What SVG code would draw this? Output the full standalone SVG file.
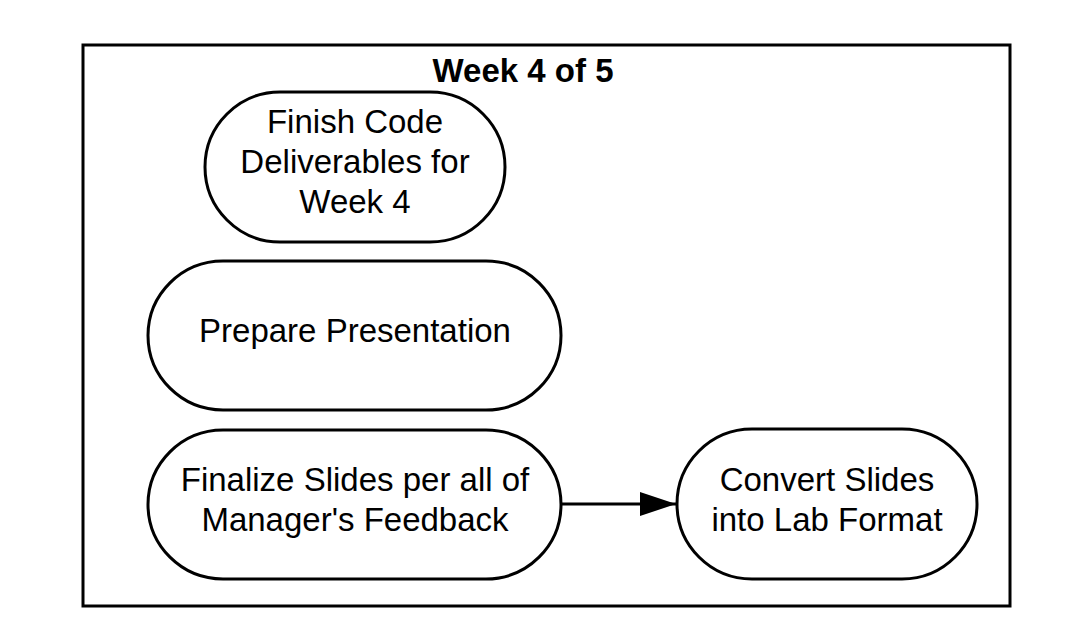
<svg xmlns="http://www.w3.org/2000/svg" width="1081" height="625" viewBox="0 0 1081 625">
<style>
.frame{fill:#fff;stroke:#000;stroke-width:3}
.node{fill:#fff;stroke:#000;stroke-width:3}
.t{font-family:"Liberation Sans",Arial,sans-serif;font-size:33px;fill:#000;text-anchor:middle}
.title{font-family:"Liberation Sans",Arial,sans-serif;font-size:33px;font-weight:bold;fill:#000;text-anchor:middle}
.edge{stroke:#000;stroke-width:3;fill:none}
</style>
<defs>
<marker id="arr" markerWidth="12" markerHeight="8" refX="12" refY="4" orient="auto" markerUnits="strokeWidth">
<path d="M0,0 L12,4 L0,8 Z" fill="#000"/>
</marker>
</defs>
<rect width="1081" height="625" fill="#fff"/>
<g id="frame">
<rect class="frame" x="83" y="45" width="927" height="561"/>
<text class="title" x="523" y="82">Week 4 of 5</text>
</g>
<g id="connectors">
<line class="edge" x1="561" y1="504" x2="676" y2="504" marker-end="url(#arr)"/>
</g>
<g id="n1">
<rect class="node" x="205" y="92" width="300" height="150" rx="75" ry="75"/>
<text class="t" x="355" y="133">Finish Code</text>
<text class="t" x="355" y="173">Deliverables for</text>
<text class="t" x="355" y="213">Week 4</text>
</g>
<g id="n2">
<rect class="node" x="148" y="261" width="413" height="149" rx="75" ry="75"/>
<text class="t" x="355" y="342">Prepare Presentation</text>
</g>
<g id="n3">
<rect class="node" x="148" y="430" width="413" height="149" rx="75" ry="75"/>
<text class="t" x="355" y="491">Finalize Slides per all of</text>
<text class="t" x="355" y="531">Manager's Feedback</text>
</g>
<g id="n4">
<rect class="node" x="677" y="429" width="300" height="150" rx="75" ry="75"/>
<text class="t" x="827" y="491">Convert Slides</text>
<text class="t" x="827" y="531">into Lab Format</text>
</g>
</svg>
